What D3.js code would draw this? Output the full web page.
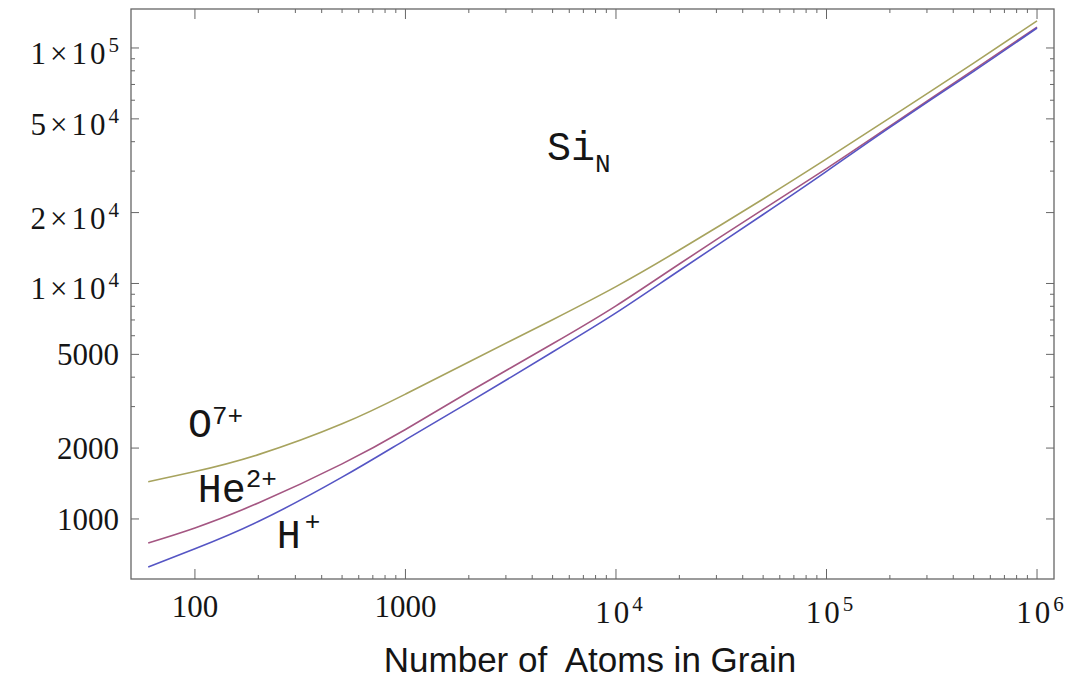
<!DOCTYPE html>
<html>
<head>
<meta charset="utf-8">
<script src="https://cdn.jsdelivr.net/npm/d3@7"></script>
<style>
  body { margin: 0; background: #fff; }
</style>
</head>
<body>
<svg id="chart" width="1082" height="681"></svg>
<script>
// number of atoms in the grain (x) and the three curves (y)
const atoms    = [60, 100, 200, 500, 1000, 2000, 5000, 1e4, 2e4, 5e4, 1e5, 2e5, 5e5, 1e6];
const oxygen   = [1440, 1590, 1876, 2535, 3390, 4640, 7020, 9700, 13870, 22850, 33800, 50470, 86300, 130300];
const helium   = [791, 916, 1169, 1714, 2399, 3459, 5546, 8035, 12100, 20650, 30760, 46560, 80720, 122700];
const hydrogen = [625, 747, 975, 1505, 2168, 3126, 5117, 7499, 11350, 19630, 29920, 46030, 79620, 121600];

// tick labels: [value, mantissa, exponent]
const xTicks = [[100, "100", null], [1000, "1000", null], [1e4, "10", "4"], [1e5, "10", "5"], [1e6, "10", "6"]];
const yTicks = [[1000, "1000", null], [2000, "2000", null], [5000, "5000", null],
                [1e4, "1", "4"], [2e4, "2", "4"], [5e4, "5", "4"], [1e5, "1", "5"]];
const xMinor = [200, 300, 400, 500, 600, 700, 800, 900,
                2000, 3000, 4000, 5000, 6000, 7000, 8000, 9000,
                2e4, 3e4, 4e4, 5e4, 6e4, 7e4, 8e4, 9e4,
                2e5, 3e5, 4e5, 5e5, 6e5, 7e5, 8e5, 9e5];
const yMinor = [3000, 4000, 6000, 7000, 8000, 9000, 3e4, 4e4, 6e4, 7e4, 8e4, 9e4];

let margin = ({top: 9, right: 28, bottom: 102, left: 131});
let width = 1082, height = 681;

let svg = d3.select("#chart");

let xScale = d3.scaleLog()
    .domain([49.7, 1.204e6])
    .range([margin.left, width - margin.right]);

let yScale = d3.scaleLog()
    .domain([556, 1.464e5])
    .range([height - margin.bottom, margin.top]);

const x0 = margin.left, x1 = width - margin.right;
const y0 = height - margin.bottom, y1 = margin.top;
const frameColor = "#666";
const textColor = "#151515";

// ticks on all four sides, pointing inward
function tickLines(cls, vals, len) {
  let g = svg.append("g").attr("class", cls).attr("stroke", frameColor).attr("stroke-width", 1);
  vals.forEach(v => {
    let x = xScale(v);
    g.append("line").attr("x1", x).attr("x2", x).attr("y1", y0).attr("y2", y0 - len);
    g.append("line").attr("x1", x).attr("x2", x).attr("y1", y1).attr("y2", y1 + len);
  });
}
function tickLinesY(cls, vals, len) {
  let g = svg.append("g").attr("class", cls).attr("stroke", frameColor).attr("stroke-width", 1);
  vals.forEach(v => {
    let y = yScale(v);
    g.append("line").attr("x1", x0).attr("x2", x0 + len).attr("y1", y).attr("y2", y);
    g.append("line").attr("x1", x1).attr("x2", x1 - len).attr("y1", y).attr("y2", y);
  });
}
tickLines("x-major", xTicks.map(d => d[0]), 10);
tickLines("x-minor", xMinor, 4);
tickLinesY("y-major", yTicks.map(d => d[0]), 8);
tickLinesY("y-minor", yMinor, 4);

svg.append("rect")
    .attr("x", x0).attr("y", y1)
    .attr("width", x1 - x0).attr("height", y0 - y1)
    .attr("fill", "none")
    .attr("stroke", frameColor)
    .attr("stroke-width", 1.3);

// tick labels
const serif = "'Liberation Serif', 'Times New Roman', serif";

xTicks.forEach(([v, base, exp]) => {
  let t = svg.append("text")
      .attr("x", xScale(v) + (exp ? 3 : 0))
      .attr("y", y0 + (exp ? 44 : 38))
      .attr("text-anchor", "middle")
      .style("font-family", serif)
      .style("font-size", "31px")
      .style("fill", textColor);
  t.append("tspan").text(base).style("letter-spacing", exp ? "3px" : null);
  if (exp) {
    t.append("tspan").attr("dy", -12).style("font-size", "21px").text(exp);
  }
});

yTicks.forEach(([v, base, exp]) => {
  let t = svg.append("text")
      .attr("x", x0 - 12)
      .attr("y", yScale(v) + (exp ? 16 : 11))
      .attr("text-anchor", "end")
      .style("font-family", serif)
      .style("font-size", "31px")
      .style("fill", textColor);
  if (exp) {
    t.append("tspan").text(base);
    t.append("tspan").attr("dx", 4).text("\u00d7");
    t.append("tspan").attr("dx", 4).style("letter-spacing", "3px").text("10");
    t.append("tspan").attr("dy", -12).style("font-size", "21px").text(exp);
  } else {
    t.append("tspan").text(base);
  }
});

// axis title
svg.append("text")
    .attr("x", 590)
    .attr("y", 672)
    .attr("text-anchor", "middle")
    .style("font-family", "'Liberation Sans', Arial, sans-serif")
    .style("font-size", "35px")
    .style("fill", textColor)
    .attr("xml:space", "preserve")
    .text("Number of  Atoms in Grain");

// curves
let series = [
  {name: "O", values: oxygen, color: "#a7a35e"},
  {name: "He", values: helium, color: "#a45682"},
  {name: "H", values: hydrogen, color: "#5555c4"}
];

let line = d3.line()
    .x((d, i) => xScale(atoms[i]))
    .y(d => yScale(d))
    .curve(d3.curveNatural);

svg.append("g")
  .selectAll("path")
  .data(series)
  .enter()
  .append("path")
    .attr("d", d => line(d.values))
    .attr("fill", "none")
    .attr("stroke", d => d.color)
    .attr("stroke-width", 1.6);

// curve labels (positions in data units)
const mono = "'Liberation Mono', 'Courier New', monospace";
let labels = [
  {x: 92.6, y: 2230, main: "O", sup: "7+", dx: 0, dy: -13},
  {x: 103, y: 1181, main: "He", sup: "2+", dx: 0, dy: -15},
  {x: 245, y: 753, main: "H", sup: "+", dx: 4, dy: -18}
];
labels.forEach(l => {
  let t = svg.append("text")
      .attr("x", xScale(l.x))
      .attr("y", yScale(l.y))
      .style("font-family", mono)
      .style("font-size", "40px")
      .style("fill", textColor);
  t.append("tspan").text(l.main);
  t.append("tspan").attr("dx", l.dx).attr("dy", l.dy).style("font-size", "26px").text(l.sup);
});

let si = svg.append("text")
    .attr("x", xScale(4700))
    .attr("y", yScale(33400))
    .style("font-family", mono)
    .style("font-size", "40px")
    .style("fill", textColor);
si.append("tspan").text("Si");
si.append("tspan").attr("dy", 12).style("font-size", "26px").text("N");
</script>
</body>
</html>
